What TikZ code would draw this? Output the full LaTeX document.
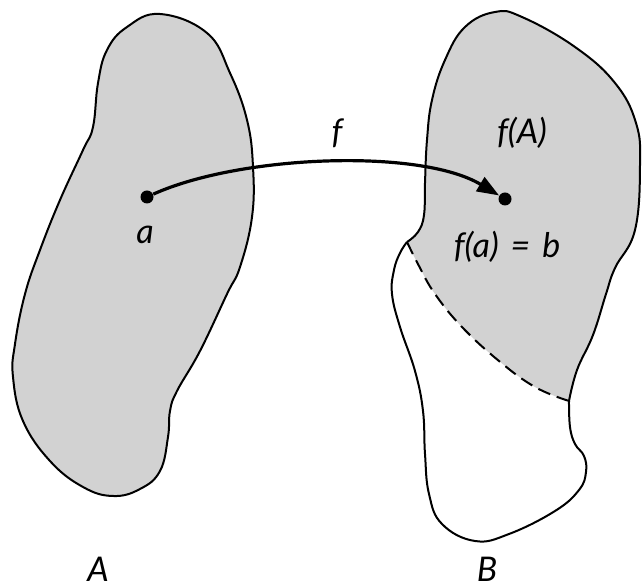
\documentclass[tikz,border=0pt]{standalone}
\usepackage{fontspec}
\setmainfont{Lato}
\definecolor{setgray}{RGB}{210,210,210}
\usetikzlibrary{arrows.meta,positioning}
\tikzset{
  region/.style={draw=black,line width=1pt,fill=setgray},
  outline/.style={draw=black,line width=1pt},
  cut/.style={draw=black,line width=1pt,dash pattern=on 6.5pt off 3.5pt},
  dot/.style={circle,fill=black,inner sep=0pt,minimum size=6.5pt},
  mapto/.style={-{Triangle[length=11pt,width=8pt]},line width=1.6pt},
  lbl/.style={font=\fontsize{17}{20}\selectfont\itshape,inner sep=0pt},
}
\begin{document}
\begin{tikzpicture}[x=0.5pt,y=-0.5pt]
  \useasboundingbox (0,0) rectangle (643,587);

  % set A
  \draw[region] plot[smooth cycle,tension=0.7] coordinates {
    (160,14) (207,33) (230,73) (247,120) (253,167) (252,217) (240,267)
    (227,294) (200,351) (177,391) (170,411) (168,437) (160,471) (140,489)
    (113,496) (83,487) (50,461) (23,421) (13,377) (15,344) (25,294)
    (40,250) (60,200) (83,150) (93,127) (98,83) (107,50) (127,27)};

  % set B, shaded part is f(A)
  \fill[setgray] plot[smooth,tension=0.7] coordinates {
    (407,242) (418,232) (424,215) (425,183) (427,140) (432,100) (445,60)
    (465,27) (495,12) (522,17) (575,47) (615,83) (636,123) (640,165)
    (635,230) (615,268) (606,294) (593,335) (577,370) (569,401)}
    -- plot[smooth,tension=0.7] coordinates {
    (569,401) (535,387) (499,361) (462,327) (435,294) (419,266) (407,242)}
    -- cycle;
  \draw[outline] plot[smooth,tension=0.7] coordinates {
    (407,242) (418,232) (424,215) (425,183) (427,140) (432,100) (445,60)
    (465,27) (495,12) (522,17) (575,47) (615,83) (636,123) (640,165)
    (635,230) (615,268) (606,294) (593,335) (577,370) (569,401)};
  \draw[outline] plot[smooth,tension=0.7] coordinates {
    (569,401) (570,427) (575,444) (584,456) (586,472) (579,490) (555,511)
    (509,534) (475,541) (442,524) (429,494) (425,454) (423,411) (415,371)
    (400,327) (392,294) (394,270) (400,253) (407,242)};
  \draw[cut] plot[smooth,tension=0.7] coordinates {
    (569,401) (535,387) (499,361) (462,327) (435,294) (419,266) (407,242)};

  % the map f
  \node[dot] (a) at (147,197) {};
  \node[dot] (b) at (505,199) {};
  \draw[mapto] (a) .. controls (240,155) and (420,148) .. (b);

  \node[lbl] (la)   at (145,235) {a};
  \node[lbl] (lf)   at (337,133) {f};
  \node[lbl] (lfA)  at (522,133) {f(A)};
  \node[lbl] (lfab) at (507,247) {f(a)\hspace{0.35em}=\hspace{0.35em}b};
  \node[lbl] (lA)   at (98,569)  {A};
  \node[lbl] (lB)   at (487,569) {B};
\end{tikzpicture}
\end{document}
